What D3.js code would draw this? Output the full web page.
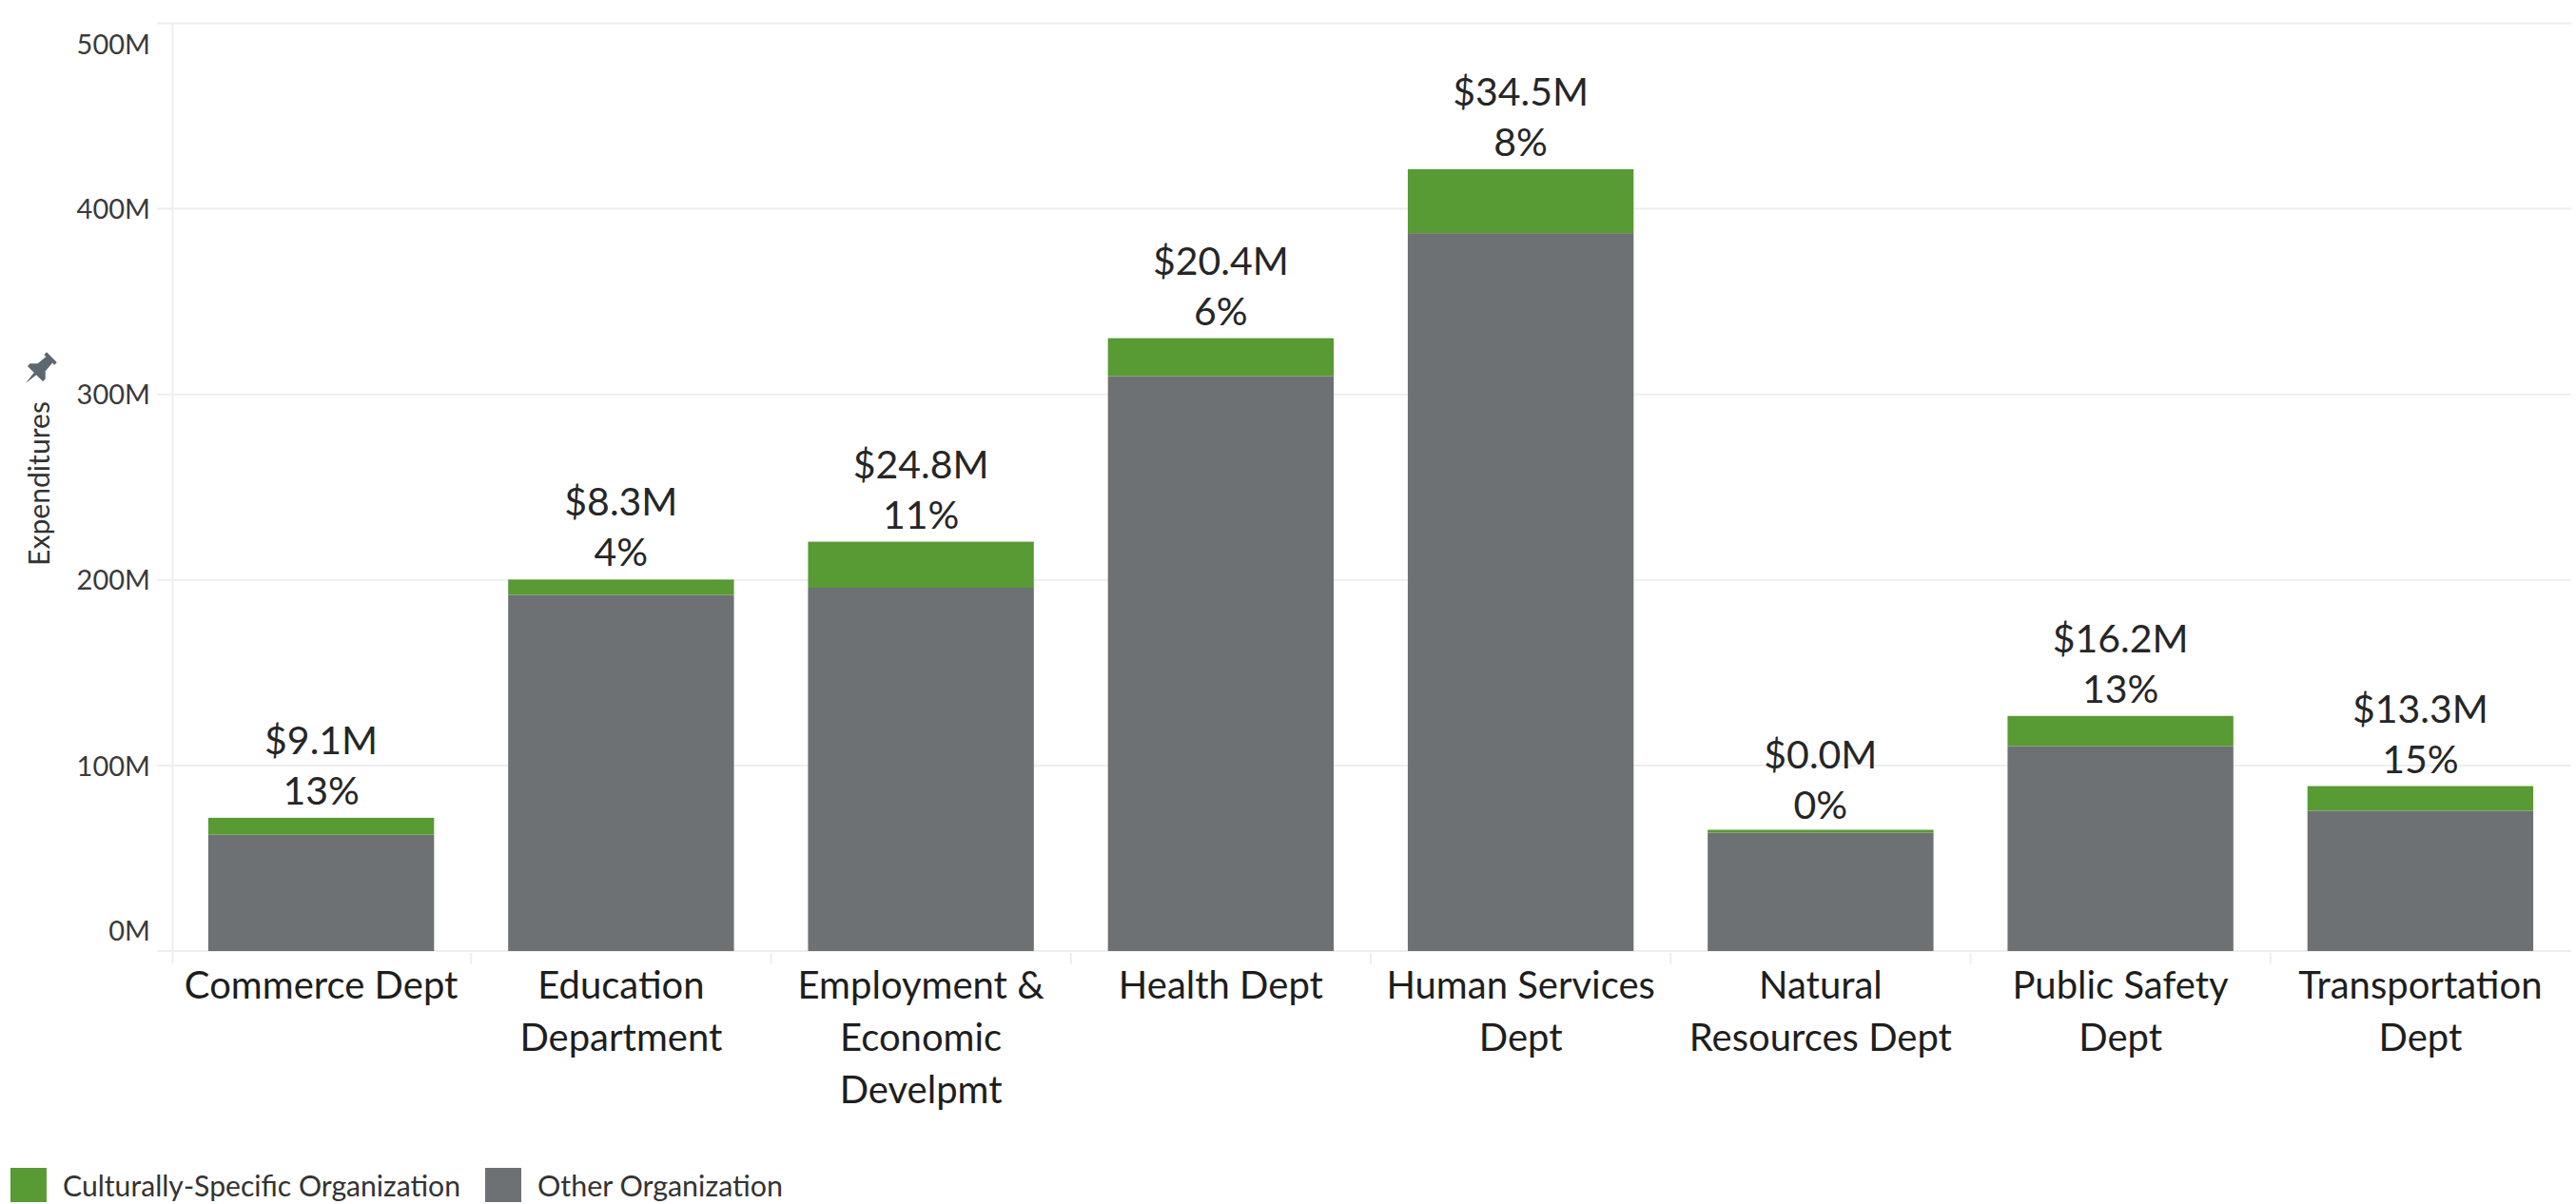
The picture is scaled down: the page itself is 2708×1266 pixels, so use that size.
<!DOCTYPE html>
<html>
<head>
<meta charset="utf-8">
<script src="https://cdn.jsdelivr.net/npm/d3@7"></script>
<style>
  html, body { margin: 0; padding: 0; background: #ffffff; }
  svg { display: block; }
  text { font-family: Lato, "Open Sans", "Noto Sans", sans-serif; }
</style>
</head>
<body>
<svg id="chart" width="2708" height="1266"></svg>
<script>
// ---------------- data ----------------
const categories = [
  "Commerce Dept", "Education Department", "Employment & Economic Develpmt",
  "Health Dept", "Human Services Dept", "Natural Resources Dept",
  "Public Safety Dept", "Transportation Dept"
];
const categoryLabelLines = [
  ["Commerce Dept"],
  ["Education", "Department"],
  ["Employment &", "Economic", "Develpmt"],
  ["Health Dept"],
  ["Human Services", "Dept"],
  ["Natural", "Resources Dept"],
  ["Public Safety", "Dept"],
  ["Transportation", "Dept"]
];
// expenditures in millions of dollars
const otherOrganization = [62.7, 191.9, 195.8, 309.9, 386.9, 63.8, 110.5, 75.6];
const culturallySpecific = [9.1, 8.3, 24.8, 20.4, 34.5, 0.04, 16.2, 13.3];
const yTickValues = [0, 100, 200, 300, 400, 500];
const seriesKeys = ["other", "cs"];
const legendLabels = ["Culturally-Specific Organization", "Other Organization"];
const axisTitle = "Expenditures";

// ---------------- styles ----------------
const GREEN = "#589a33";
const GRAY = "#6e7174";
const GRID = "#eeeeee";

const svg = d3.select("#chart");
const plot = { left: 180, right: 2702, top: 24.5, bottom: 1000 };

const table = categories.map((c, i) => ({
  category: c, other: otherOrganization[i], cs: culturallySpecific[i]
}));
const stacked = d3.stack().keys(seriesKeys)(table);

const x = d3.scaleBand()
  .domain(categories)
  .range([plot.left, plot.right])
  .paddingInner(0.247)
  .paddingOuter(0.1235);

const y = d3.scaleLinear()
  .domain([0, 500])
  .range([plot.bottom, plot.top]);

// gridlines
svg.append("g").selectAll("line")
  .data(yTickValues)
  .join("line")
  .attr("x1", 165).attr("x2", 2703)
  .attr("y1", d => y(d)).attr("y2", d => y(d))
  .attr("stroke", GRID).attr("stroke-width", 2);

// left frame line
svg.append("line")
  .attr("x1", plot.left + 1.5).attr("x2", plot.left + 1.5)
  .attr("y1", plot.top).attr("y2", plot.bottom + 13)
  .attr("stroke", GRID).attr("stroke-width", 2);

// band separators below baseline
const step = x.step();
svg.append("g").selectAll("line")
  .data(categories.slice(1))
  .join("line")
  .attr("x1", d => x(d) - (step - x.bandwidth()) / 2)
  .attr("x2", d => x(d) - (step - x.bandwidth()) / 2)
  .attr("y1", plot.bottom + 2).attr("y2", plot.bottom + 14)
  .attr("stroke", GRID).attr("stroke-width", 2);

// y axis
const yAxis = d3.axisLeft(y)
  .tickValues(yTickValues)
  .tickSize(0)
  .tickPadding(0)
  .tickFormat(d => d + "M");
const yg = svg.append("g")
  .attr("transform", "translate(158,0)")
  .call(yAxis);
yg.select(".domain").remove();
yg.selectAll("text")
  .attr("font-family", "Lato, 'Open Sans', sans-serif")
  .attr("font-size", 29)
  .attr("fill", "#3a3a3a")
  .attr("dy", d => d === 500 ? "1.1em" : (d === 0 ? "-0.4em" : "0.35em"));

// bars
const colorOf = { other: GRAY, cs: GREEN };
svg.append("g").selectAll("g")
  .data(stacked)
  .join("g")
  .attr("fill", s => colorOf[s.key])
  .selectAll("rect")
  .data(s => s.map(d => ({ d, key: s.key })))
  .join("rect")
  .attr("x", o => x(o.d.data.category))
  .attr("width", x.bandwidth())
  .attr("y", o => {
    const h = y(o.d[0]) - y(o.d[1]);
    const hh = o.key === "cs" ? Math.max(h, 3) : h;
    return y(o.d[0]) - hh;
  })
  .attr("height", o => {
    const h = y(o.d[0]) - y(o.d[1]);
    return o.key === "cs" ? Math.max(h, 3) : h;
  });

// value labels
const topSeries = stacked[stacked.length - 1];
const labels = svg.append("g")
  .attr("text-anchor", "middle")
  .attr("fill", "#262626")
  .attr("font-size", 41);
labels.selectAll("text.dollar")
  .data(topSeries)
  .join("text")
  .attr("class", "dollar")
  .attr("x", d => x(d.data.category) + x.bandwidth() / 2)
  .attr("y", d => y(d[1]) - 67)
  .text(d => "$" + d.data.cs.toFixed(1) + "M");
labels.selectAll("text.pct")
  .data(topSeries)
  .join("text")
  .attr("class", "pct")
  .attr("x", d => x(d.data.category) + x.bandwidth() / 2)
  .attr("y", d => y(d[1]) - 14)
  .text(d => Math.round(d.data.cs / (d.data.cs + d.data.other) * 100) + "%");

// x axis labels
const xAxis = d3.axisBottom(x).tickSize(0).tickFormat("");
const xg = svg.append("g").attr("transform", `translate(0,${plot.bottom})`).call(xAxis);
xg.select(".domain").remove();
xg.selectAll(".tick").each(function(d, i) {
  const t = d3.select(this).append("text")
    .attr("text-anchor", "middle")
    .attr("fill", "#1e1e1e")
    .attr("font-size", 40)
    .attr("font-family", "Lato, 'Open Sans', sans-serif");
  categoryLabelLines[i].forEach((line, j) => {
    t.append("tspan").attr("x", 0).attr("y", 50 + j * 55).text(line);
  });
});

// axis title with pin
const titleG = svg.append("g").attr("transform", "translate(52,595) rotate(-90)");
titleG.append("text")
  .attr("x", 0).attr("y", 0)
  .attr("font-size", 31)
  .attr("fill", "#333")
  .attr("textLength", 173)
  .attr("lengthAdjust", "spacingAndGlyphs")
  .text(axisTitle);

svg.append("path")
  .attr("transform", "translate(41,389) rotate(45) scale(0.95)")
  .attr("fill", "#5d6770")
  .attr("d", "M-8,-20 L8,-20 L8,-16 L5,-16 L6,-4 L12,2 L12,6 L-12,6 L-12,2 L-6,-4 L-5,-16 L-8,-16 Z M-1.8,6 L1.8,6 L0,21 Z");

// legend
const legendX = [11, 510];
const legendTextLen = [418, 258];
const legendColors = [GREEN, GRAY];
const lg = svg.append("g");
legendLabels.forEach((lab, i) => {
  lg.append("rect")
    .attr("x", legendX[i]).attr("y", 1228)
    .attr("width", 38).attr("height", 36)
    .attr("fill", legendColors[i]);
  lg.append("text")
    .attr("x", legendX[i] + 55).attr("y", 1258)
    .attr("font-size", 31)
    .attr("fill", "#333")
    .attr("textLength", legendTextLen[i])
    .attr("lengthAdjust", "spacingAndGlyphs")
    .text(lab);
});
</script>
</body>
</html>
